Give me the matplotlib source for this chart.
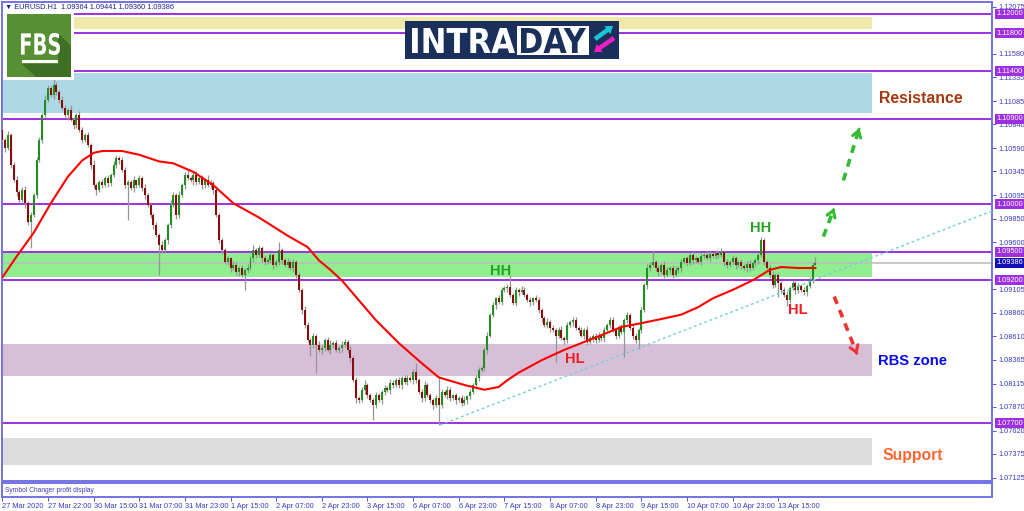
import numpy as np
import matplotlib
matplotlib.use('Agg')
import matplotlib.pyplot as plt
import matplotlib.patches as mpatches
import matplotlib.transforms as mtransforms
from matplotlib.textpath import TextPath
from matplotlib.font_manager import FontProperties

plt.rcParams['font.family'] = ['Liberation Sans', 'DejaVu Sans']

# ---- data (EURUSD H1) ----
first_open = 1.1078
close = [
    1.1068, 1.1059, 1.1073, 1.1041, 1.1025, 1.1013, 1.1004, 1.1015, 1.1001, 1.0981,
    1.0989, 1.1010, 1.1046, 1.1068, 1.1094, 1.1110, 1.1122, 1.1115, 1.1125, 1.1118,
    1.1110, 1.1101, 1.1094, 1.1099, 1.1089, 1.1083, 1.1094, 1.1078, 1.1068, 1.1073,
    1.1062, 1.1041, 1.1020, 1.1015, 1.1023, 1.1020, 1.1028, 1.1022, 1.1031, 1.1041,
    1.1049, 1.1046, 1.1036, 1.1020, 1.1023, 1.1017, 1.1025, 1.1020, 1.1028, 1.1017,
    1.1010, 1.0999, 1.0989, 1.0978, 1.0968, 1.0957, 1.0952, 1.0962, 1.0978, 1.0999,
    1.1010, 1.0989, 1.1010, 1.1020, 1.1031, 1.1028, 1.1025, 1.1031, 1.1023, 1.1028,
    1.1020, 1.1025, 1.1020, 1.1022, 1.1015, 1.0989, 1.0962, 1.0952, 1.0939, 1.0943,
    1.0933, 1.0936, 1.0929, 1.0933, 1.0926, 1.0931, 1.0933, 1.0943, 1.0952, 1.0947,
    1.0954, 1.0943, 1.0939, 1.0941, 1.0947, 1.0936, 1.0939, 1.0952, 1.0941, 1.0936,
    1.0939, 1.0933, 1.0939, 1.0926, 1.0910, 1.0889, 1.0873, 1.0857, 1.0852, 1.0862,
    1.0852, 1.0847, 1.0849, 1.0857, 1.0847, 1.0852, 1.0854, 1.0847, 1.0849, 1.0852,
    1.0855, 1.0847, 1.0838, 1.0815, 1.0796, 1.0794, 1.0805, 1.0810, 1.0799, 1.0794,
    1.0789, 1.0799, 1.0794, 1.0803, 1.0807, 1.0805, 1.0812, 1.0810, 1.0815, 1.0810,
    1.0817, 1.0813, 1.0817, 1.0815, 1.0824, 1.0815, 1.0803, 1.0796, 1.0810, 1.0799,
    1.0794, 1.0789, 1.0796, 1.0789, 1.0803, 1.0799, 1.0805, 1.0796, 1.0799, 1.0794,
    1.0796, 1.0791, 1.0794, 1.0798, 1.0803, 1.0810, 1.0817, 1.0826, 1.0828, 1.0847,
    1.0862, 1.0884, 1.0894, 1.0901, 1.0897, 1.0910, 1.0912, 1.0913, 1.0905, 1.0896,
    1.0910, 1.0908, 1.0910, 1.0905, 1.0899, 1.0897, 1.0901, 1.0899, 1.0889, 1.0880,
    1.0873, 1.0876, 1.0870, 1.0868, 1.0862, 1.0868, 1.0859, 1.0857, 1.0873, 1.0876,
    1.0878, 1.0870, 1.0868, 1.0862, 1.0868, 1.0855, 1.0859, 1.0862, 1.0857, 1.0862,
    1.0859, 1.0868, 1.0873, 1.0878, 1.0868, 1.0862, 1.0870, 1.0866, 1.0878, 1.0884,
    1.0870, 1.0862, 1.0857, 1.0868, 1.0889, 1.0915, 1.0933, 1.0936, 1.0939, 1.0933,
    1.0929, 1.0936, 1.0926, 1.0931, 1.0933, 1.0926, 1.0931, 1.0933, 1.0939, 1.0943,
    1.0938, 1.0947, 1.0941, 1.0943, 1.0939, 1.0946, 1.0947, 1.0943, 1.0948, 1.0946,
    1.0949, 1.0947, 1.0950, 1.0939, 1.0936, 1.0939, 1.0943, 1.0936, 1.0939, 1.0935,
    1.0933, 1.0937, 1.0933, 1.0938, 1.0941, 1.0947, 1.0962, 1.0939, 1.0933, 1.0926,
    1.0915, 1.0926, 1.0917, 1.0910, 1.0905, 1.0899, 1.0912, 1.0917, 1.0910, 1.0914,
    1.0910, 1.0908, 1.0914, 1.0920, 1.09364, 1.09386,
]
# wick lengths in pips above / below the candle body
up_wick = [
    3, 2, 4, 2, 3, 5, 2, 3, 4, 2, 3, 2, 4, 3, 2, 5, 3, 2, 10, 3,
    2, 4, 3, 2, 5, 3, 2, 4, 3, 2, 3, 2, 5, 2, 3, 4, 2, 3, 2, 4,
    3, 2, 4, 3, 2, 3, 5, 2, 3, 2, 4, 2, 3, 2, 3, 2, 4, 3, 2, 5,
    3, 2, 4, 2, 3, 5, 2, 3, 4, 2, 3, 2, 6, 3, 2, 4, 2, 3, 2, 3,
    2, 4, 3, 2, 3, 2, 4, 3, 5, 2, 3, 2, 4, 2, 3, 2, 3, 8, 2, 3,
    4, 2, 3, 2, 3, 2, 4, 3, 2, 3, 2, 4, 3, 2, 3, 5, 2, 3, 2, 4,
    3, 2, 4, 2, 3, 2, 3, 5, 2, 3, 2, 4, 3, 2, 3, 2, 4, 3, 2, 3,
    2, 3, 4, 2, 3, 9, 2, 3, 4, 2, 3, 2, 4, 21, 3, 2, 4, 3, 2, 3,
    2, 3, 4, 2, 3, 2, 4, 3, 2, 3, 4, 2, 3, 2, 4, 3, 2, 3, 13, 2,
    3, 2, 4, 3, 2, 3, 2, 4, 3, 2, 3, 4, 2, 3, 2, 3, 4, 2, 3, 2,
    3, 4, 2, 3, 2, 4, 3, 2, 3, 4, 2, 3, 2, 4, 3, 2, 3, 4, 2, 3,
    2, 4, 3, 2, 3, 2, 4, 3, 13, 2, 3, 2, 4, 3, 2, 3, 4, 2, 3, 2,
    3, 2, 4, 3, 2, 3, 2, 4, 3, 2, 3, 2, 4, 2, 3, 2, 4, 3, 2, 3,
    2, 3, 4, 2, 3, 2, 4, 3, 2, 3, 4, 2, 3, 2, 3, 4, 2, 3, 2, 3,
    2, 3, 2, 4, 3, 5.5,
]
low_wick = [
    3, 4, 2, 3, 2, 4, 3, 2, 5, 3, 27, 2, 3, 2, 4, 2, 3, 2, 4, 3,
    4, 2, 3, 5, 2, 4, 3, 2, 4, 3, 2, 4, 3, 5, 2, 3, 2, 4, 3, 2,
    3, 4, 2, 3, 37, 2, 4, 3, 2, 3, 4, 2, 3, 4, 2, 31, 3, 2, 4, 3,
    2, 4, 3, 2, 4, 3, 2, 5, 3, 2, 4, 3, 2, 3, 4, 2, 3, 4, 2, 3,
    4, 2, 3, 4, 2, 16, 3, 2, 4, 3, 2, 4, 3, 2, 3, 4, 2, 3, 4, 2,
    3, 2, 4, 3, 2, 4, 3, 2, 12, 3, 29, 2, 4, 3, 2, 4, 3, 2, 3, 4,
    2, 3, 4, 2, 5, 3, 2, 4, 3, 2, 16, 3, 2, 4, 3, 2, 4, 3, 2, 3,
    4, 2, 3, 2, 4, 3, 2, 4, 3, 2, 3, 4, 2, 21, 3, 2, 4, 3, 2, 4,
    2, 3, 2, 4, 3, 2, 4, 3, 2, 3, 4, 2, 3, 4, 2, 3, 2, 4, 3, 2,
    3, 4, 2, 3, 2, 4, 3, 2, 3, 4, 2, 3, 4, 2, 28, 3, 2, 4, 3, 2,
    4, 2, 3, 2, 4, 3, 2, 4, 3, 2, 3, 4, 2, 3, 2, 4, 3, 2, 27, 3,
    2, 4, 3, 9, 3, 2, 4, 3, 2, 3, 4, 2, 3, 2, 4, 3, 2, 3, 4, 2,
    3, 2, 4, 3, 2, 3, 4, 2, 3, 2, 4, 3, 2, 4, 3, 2, 3, 4, 2, 3,
    2, 4, 3, 2, 3, 4, 2, 3, 2, 4, 3, 2, 14, 3, 2, 6, 3, 2, 4, 3,
    2, 3, 4, 2, 3, 0.4,
]
# red moving average (bar index, value)
ma_idx = [0, 5, 11, 17, 23, 28, 32, 35, 42, 48, 55, 60, 67, 74, 81, 90, 100, 107, 111, 115,
          119, 125, 131, 139, 147, 153, 162, 169, 174, 177, 181, 189, 197, 208, 217, 224, 232, 238, 244, 249,
          256, 263, 269, 273, 279, 285]
ma_val = [1.0923, 1.0945, 1.0970, 1.1001, 1.1029, 1.1046, 1.1054, 1.1056, 1.1056, 1.1052,
          1.1045, 1.1043, 1.1034, 1.1020, 1.1001, 1.0986, 1.0967, 1.0955, 1.0941, 1.0931,
          1.0920, 1.0899, 1.0878, 1.0854, 1.0833, 1.0818, 1.0810, 1.0805, 1.0808, 1.0815,
          1.0823, 1.0836, 1.0847, 1.0860, 1.0871, 1.0875, 1.0880, 1.0884, 1.0892, 1.0901,
          1.0910, 1.0920, 1.0931, 1.0934, 1.0933, 1.0933]

levels = [1.12000, 1.11800, 1.11400, 1.10900, 1.10000, 1.09500, 1.09200, 1.07700]
zones = [  # (low, high, colour)
    (1.11842, 1.11968, '#eee8aa'),
    (1.10959, 1.11380, '#add8e6'),
    (1.09235, 1.09487, '#90ee90'),
    (1.08194, 1.08531, '#d8bfd8'),
    (1.07259, 1.07542, '#dcdcdc'),
]
price_ticks = [1.12075, 1.11580, 1.11335, 1.11085, 1.10840, 1.10590, 1.10345, 1.10095,
               1.09850, 1.09600, 1.09105, 1.08860, 1.08610, 1.08365, 1.08115, 1.07870,
               1.07620, 1.07375, 1.07125]
date_labels = ['27 Mar 2020', '27 Mar 22:00', '30 Mar 15:00', '31 Mar 07:00', '31 Mar 23:00',
               '1 Apr 15:00', '2 Apr 07:00', '2 Apr 23:00', '3 Apr 15:00', '6 Apr 07:00',
               '6 Apr 23:00', '7 Apr 15:00', '8 Apr 07:00', '8 Apr 23:00', '9 Apr 15:00',
               '10 Apr 07:00', '10 Apr 23:00', '13 Apr 15:00']
trend_x = [153.5, 347.0]
trend_y = [1.0768, 1.0993]
labels = [  # (bar, price, text, colour, size)
    (174.5, 1.0930, 'HH', '#22a322', 10.5),
    (265.7, 1.0975, 'HH', '#22a322', 10.5),
    (200.8, 1.0837, 'HL', '#ee1c1c', 10.5),
    (279.0, 1.0889, 'HL', '#ee1c1c', 10.5),
    (321.8, 1.1111, 'Resistance', '#a5370f', 11.4),
    (319.1, 1.0835, 'RBS zone', '#0a0aee', 10.6),
    (319.0, 1.0736, 'Support', '#ff6633', 11.3),
]
arrows = [  # (x0, y0, x1, y1, colour)
    (287.8, 1.0966, 291.6, 1.0996, '#33bb33'),
    (294.8, 1.1025, 300.4, 1.1080, '#33bb33'),
    (291.6, 1.0903, 299.7, 1.0842, '#ee3333'),
]

pip = 0.0001
W, H = 1024, 511
blue = '#3b3bc4'
frame = '#7272e6'
lvl_col = '#9d2fe0'

fig = plt.figure(figsize=(W / 100, H / 100), dpi=100)


def frac(x0, y0, x1, y1):
    return [x0 / W, 1 - y1 / H, (x1 - x0) / W, (y1 - y0) / H]


ax = fig.add_axes(frac(2, 2, 992, 481))
sub = fig.add_axes(frac(2, 483, 992, 497), sharex=ax)

closes = np.array(close)
opens = np.r_[first_open, closes[:-1]]
highs = np.maximum(opens, closes) + np.array(up_wick) * pip
lows = np.minimum(opens, closes) - np.array(low_wick) * pip
idx = np.arange(len(closes))
bull = closes >= opens

# zones and levels
for lo, hi, c in zones:
    ax.axhspan(lo, hi, xmin=0, xmax=0.879, color=c, lw=0, zorder=1)
for lv in levels:
    ax.axhline(lv, color=lvl_col, lw=1.4, zorder=2)
ax.axhline(closes[-1], color='#bdbdbd', lw=1.2, zorder=2)

# candles
ax.vlines(idx, lows, highs, color='#959595', lw=0.9, zorder=3)
body = np.maximum(np.abs(closes - opens), 0.00004)
ax.bar(idx, body, bottom=np.minimum(opens, closes), width=0.7,
       color=np.where(bull, '#1f8f1f', '#8b0a0a'), lw=0, zorder=4)

# moving average and trend line
ax.plot(ma_idx, ma_val, color='#ff0000', lw=1.5, zorder=5)
ax.plot(trend_x, trend_y, color='#6fcfd6', lw=1, ls=(0, (2, 2)), zorder=5)

ax.set_xlim(-0.1, 346.9)
ax.set_ylim(1.07091, 1.12126)

# right price scale
ax.yaxis.tick_right()
ax.set_yticks(price_ticks)
ax.set_yticklabels([f'{v:.5f}' for v in price_ticks])
ax.tick_params(axis='y', length=3, width=0.6, colors=blue, labelsize=5.3, pad=1.5)
ax.tick_params(axis='x', bottom=False, labelbottom=False)
trans = mtransforms.blended_transform_factory(ax.transAxes, ax.transData)
for lv in levels:
    ax.text(1.0045, lv, f'{lv:.5f}', transform=trans, fontsize=5.3, color='white',
            va='center', ha='left', clip_on=False, zorder=10,
            bbox=dict(boxstyle='square,pad=0.2', fc=lvl_col, ec='none'))
ax.text(1.0045, closes[-1], f'{closes[-1]:.5f}', transform=trans, fontsize=5.3, color='white',
        va='center', ha='left', clip_on=False, zorder=11,
        bbox=dict(boxstyle='square,pad=0.2', fc='#1010b8', ec='none'))

for sp in ax.spines.values():
    sp.set_color(frame)
    sp.set_linewidth(1.4)

ax.text(0.003, 0.989, '\u25bc EURUSD.H1  1.09364 1.09441 1.09360 1.09386', transform=ax.transAxes,
        fontsize=5.3, color='#1f1f8f', va='center', ha='left', zorder=12)

# annotations
for x, y, s, c, fs in labels:
    ax.text(x, y, s, color=c, fontsize=fs, fontweight='bold', ha='center', va='center', zorder=8)
for x0, y0, x1, y1, c in arrows:
    ax.plot([x0, x0 + (x1 - x0) * 0.9], [y0, y0 + (y1 - y0) * 0.9], color=c, lw=2.6,
            ls=(0, (2.2, 1.8)), zorder=7, solid_capstyle='butt')
    ax.annotate('', xy=(x1, y1), xytext=(x0 + (x1 - x0) * 0.93, y0 + (y1 - y0) * 0.93),
                arrowprops=dict(arrowstyle='->,head_length=0.45,head_width=0.3', color=c, lw=2.2),
                zorder=7)

# sub window + time axis
sub.set_ylim(0, 1)
sub.set_yticks([])
sub.set_xticks(np.arange(len(date_labels)) * 16)
sub.set_xticklabels(date_labels)
for t in sub.get_xticklabels():
    t.set_horizontalalignment('left')
sub.tick_params(axis='x', length=3, width=0.6, colors=blue, labelsize=5.3, pad=1)
for sp in sub.spines.values():
    sp.set_color(frame)
    sp.set_linewidth(1.4)
sub.text(0.003, 0.5, 'Symbol Changer profit display', transform=sub.transAxes, fontsize=4.8,
         color=blue, va='center', ha='left')

# logos drawn on a pixel overlay
ov = fig.add_axes([0, 0, 1, 1])
ov.set_xlim(0, W)
ov.set_ylim(H, 0)
ov.axis('off')
ov.patch.set_alpha(0)


def fit_text(s, x0, y0, x1, y1, color, family='DejaVu Sans'):
    tp = TextPath((0, 0), s, size=10, prop=FontProperties(family=family, weight='bold'))
    e = tp.get_extents()
    tr = (mtransforms.Affine2D().translate(-e.x0, -e.y0)
          .scale((x1 - x0) / e.width, -(y1 - y0) / e.height).translate(x0, y1))
    ov.add_patch(mpatches.PathPatch(tr.transform_path(tp), fc=color, ec='none'))


# FBS
ov.add_patch(mpatches.Rectangle((3, 10), 71, 70, fc='white', ec='none'))
ov.add_patch(mpatches.Rectangle((7, 14), 64, 63, fc='#568f34', ec='none'))
ov.add_patch(mpatches.Polygon([(58, 33), (71, 46), (71, 77), (36, 77), (22, 64), (58, 64)],
                              fc='#3f6e25', ec='none'))
fit_text('FBS', 21, 33, 60, 55, 'white')
ov.add_patch(mpatches.Rectangle((22, 60), 36, 3, fc='white', ec='none'))

# INTRADAY
ov.add_patch(mpatches.Rectangle((405, 21), 214, 38, fc='#1b2f5b', ec='none'))
fit_text('INTRA', 412, 28, 515, 53, 'white')
ov.add_patch(mpatches.Rectangle((517, 26), 72, 29, fc='white', ec='none'))
fit_text('DAY', 521, 28, 586, 53, '#1b2f5b')
ov.add_patch(mpatches.FancyArrow(595, 39, 18, -13, width=4.5, head_width=10, head_length=7,
                                 length_includes_head=True, color='#19c6d3', lw=0))
ov.add_patch(mpatches.FancyArrow(614, 38, -20, 14, width=4.5, head_width=10, head_length=7,
                                 length_includes_head=True, color='#ee1fc3', lw=0))

fig.savefig('out.png', dpi=100)
